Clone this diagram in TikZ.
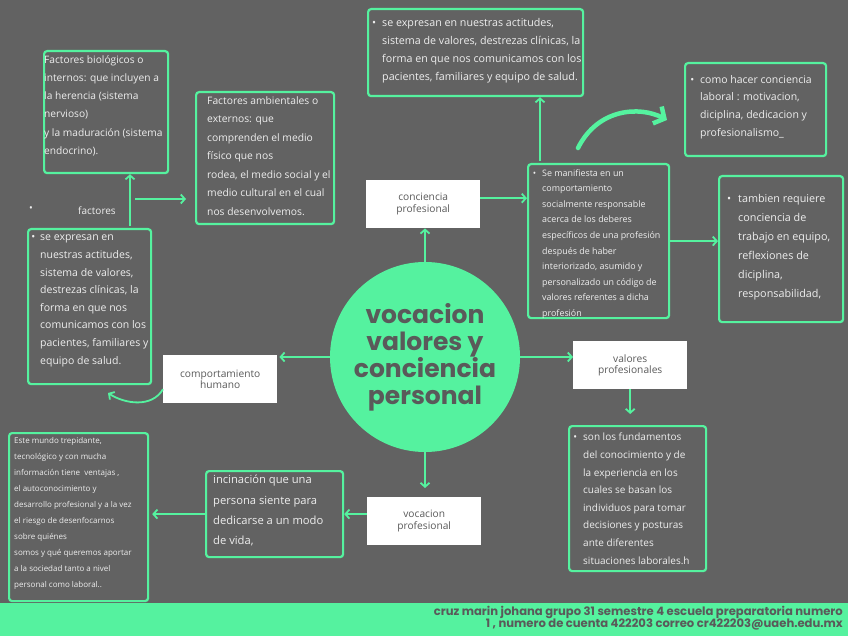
\documentclass[tikz,border=0pt]{standalone}
\usepackage{fontspec}
\setmainfont{Open Sans}
\newfontfamily\popp{Poppins}
\usetikzlibrary{arrows.meta,calc}
\definecolor{bg}{HTML}{626262}
\definecolor{mint}{HTML}{55F29F}
\definecolor{ink}{HTML}{5A5A5A}
\definecolor{txt}{HTML}{EEEEEE}
\begin{document}
\begin{tikzpicture}[x=1pt,y=-1pt,
  gbox/.style={draw=mint, line width=2.2pt, rounded corners=3pt, inner sep=0pt, anchor=north west},
  wbox/.style={fill=white, inner sep=0pt, anchor=north west, minimum width=114pt, minimum height=48pt, text=ink, align=center, font=\fontsize{10.2}{11.5}\selectfont},
  tx/.style={anchor=north west, inner sep=0pt, text=txt, align=left},
  arr/.style={draw=mint, line width=1.8pt, -{Straight Barb[length=4pt,width=9pt]}}
]
\useasboundingbox (0,0) rectangle (848,636);
\fill[bg] (0,0) rectangle (848,636);
\fill[mint] (0,603) rectangle (848,636);

% central circle
\node[circle, fill=mint, minimum size=190pt, inner sep=0pt, text=ink, align=center,
  font=\popp\bfseries\fontsize{25}{27}\selectfont] (c) at (425,357) {vocacion\\valores y\\conciencia\\personal};

% white label boxes
\node[wbox] (cp) at (366,180) {conciencia\\profesional};
\node[wbox] (vp) at (573,341) {valores\\profesionales};
\node[wbox] (vo) at (367,497) {vocacion\\profesional};
\node[wbox] (ch) at (163,355) {comportamiento\\humano};

% green boxes
\node[gbox, minimum width=124pt, minimum height=122pt] (bio) at (43,50) {};
\node[tx, font=\fontsize{10.2}{18.3}\selectfont] (biot) at (44,55) {Factores biológicos o\\internos: que incluyen a\\la herencia (sistema\\nervioso)\\y la maduración (sistema\\endocrino).};

\node[gbox, minimum width=138pt, minimum height=132pt] (amb) at (195,91) {};
\node[tx, font=\fontsize{10.3}{18.5}\selectfont] (ambt) at (207,96) {Factores ambientales o\\externos: que\\comprenden el medio\\físico que nos\\rodea, el medio social y el\\medio cultural en el cual\\nos desenvolvemos.};

\node[gbox, minimum width=215pt, minimum height=87pt] (top) at (367,8) {};
\node[tx, font=\fontsize{10.7}{18}\selectfont] (topt) at (382,18) {\makebox[0pt][r]{\textbullet\hspace{6pt}}se expresan en nuestras actitudes,\\sistema de valores, destrezas clínicas, la\\forma en que nos comunicamos con los\\pacientes, familiares y equipo de salud.};

\node[gbox, minimum width=141pt, minimum height=93pt] (rt) at (684,62) {};
\node[tx, font=\fontsize{10.5}{17.7}\selectfont] (rtt) at (700,75) {\makebox[0pt][r]{\textbullet\hspace{6pt}}como hacer conciencia\\laboral : motivacion,\\diciplina, dedicacion y\\profesionalismo\_};

\node[gbox, minimum width=141pt, minimum height=154pt] (sm) at (527,163) {};
\node[tx, font=\fontsize{8.9}{15.6}\selectfont] (smt) at (542,169) {\makebox[0pt][r]{\textbullet\hspace{6pt}}Se manifiesta en un\\comportamiento\\socialmente responsable\\acerca de los deberes\\específicos de una profesión\\después de haber\\interiorizado, asumido y\\personalizado un código de\\valores referentes a dicha\\profesión};

\node[gbox, minimum width=124pt, minimum height=146pt] (rb) at (718,175) {};
\node[tx, font=\fontsize{10.8}{19}\selectfont] (rbt) at (738,194) {\makebox[0pt][r]{\textbullet\hspace{7pt}}tambien requiere\\conciencia de\\trabajo en equipo,\\reflexiones de\\diciplina,\\responsabilidad,};

\node[gbox, minimum width=137pt, minimum height=145pt] (sf) at (568,425) {};
\node[tx, font=\fontsize{10}{17.6}\selectfont] (sft) at (583,433) {\makebox[0pt][r]{\textbullet\hspace{6pt}}son los fundamentos\\del conocimiento y de\\la experiencia en los\\cuales se basan los\\individuos para tomar\\decisiones y posturas\\ante diferentes\\situaciones laborales.h};

\node[gbox, minimum width=137pt, minimum height=86pt] (inc) at (205,470) {};
\node[tx, font=\fontsize{11.2}{20.3}\selectfont] (inct) at (213,475) {incinación que una\\persona siente para\\dedicarse a un modo\\de vida,};

\node[gbox, minimum width=139pt, minimum height=168pt] (bl) at (8,432) {};
\node[tx, font=\fontsize{8}{16}\selectfont] (blt) at (14,437) {Este mundo trepidante,\\tecnológico y con mucha\\información tiene\ \ ventajas ,\\el autoconocimiento y\\desarrollo profesional y a la vez\\el riesgo de desenfocarnos\\sobre quiénes\\somos y qué queremos aportar\\a la sociedad tanto a nivel\\personal como laboral..};

\node[gbox, minimum width=123pt, minimum height=155pt] (lb) at (27,228) {};
\node[tx, font=\fontsize{10.5}{17.6}\selectfont] (lbt) at (40,235) {\makebox[0pt][r]{\textbullet\hspace{5pt}}se expresan en\\nuestras actitudes,\\sistema de valores,\\destrezas clínicas, la\\forma en que nos\\comunicamos con los\\pacientes, familiares y\\equipo de salud.};

\node[tx, font=\fontsize{10}{11}\selectfont] (fb) at (29,206) {\textbullet};
\node[text=txt, inner sep=0pt, font=\fontsize{10}{11}\selectfont] (fac) at (97,211) {factores};

% footer
\node[anchor=north east, inner sep=0pt, text=ink, align=right,
  font=\popp\bfseries\fontsize{11.6}{12}\selectfont] (foot) at (843,606)
  {cruz marin johana grupo 31 semestre 4 escuela preparatoria numero\\1 , numero de cuenta 422203 correo cr422203@uaeh.edu.mx};

% connectors
\draw[arr] (c.north) -- (c.north |- cp.south);
\draw[arr] ([yshift=6pt]cp.east) -- ([yshift=6pt]cp.east -| sm.west);
\coordinate (smup) at ($(sm.north west)+(13,-2)$);
\draw[arr] (smup) -- (smup |- top.south);
\draw[arr] (sm.east) -- (sm.east -| rb.west);
\draw[arr] (c.east) -- (c.east -| vp.west);
\draw[arr, shorten >=11pt] (vp.south) -- (vp.south |- sf.north);
\draw[arr, shorten >=9pt] (c.south) -- (c.south |- vo.north);
\draw[arr] (vo.west |- inc.east) -- (inc.east);
\draw[arr, shorten >=3pt] (inc.west) -- (inc.west -| bl.east);
\draw[arr, shorten >=2pt] (c.west) -- (c.west -| ch.east);
\coordinate (chc) at (108,393);
\draw[arr] ($(ch.west)+(0,10)$) .. controls (152,408) and (125,404) .. (chc);
\coordinate (fup) at (130,226);
\draw[arr] (fup) -- (fup |- bio.south);
\coordinate (frt) at (135,199);
\draw[arr, shorten >=9pt] (frt) -- (frt -| amb.west);
\coordinate (cs) at (578,148);
\coordinate (ce) at (667,120);
\draw[draw=mint, line width=4.5pt, line cap=round, -{Straight Barb[length=8pt,width=19pt]}] (cs) .. controls (598,108) and (640,106) .. (ce);
\end{tikzpicture}
\end{document}
